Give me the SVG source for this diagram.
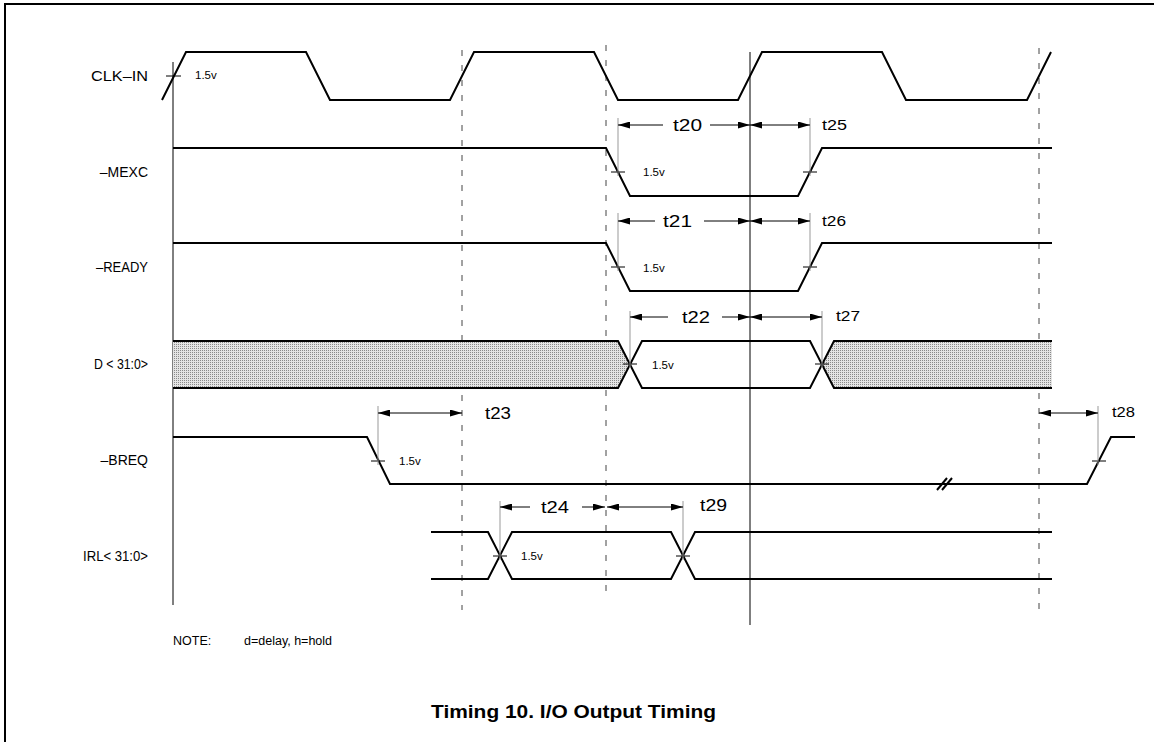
<svg xmlns="http://www.w3.org/2000/svg" width="1154" height="742" viewBox="0 0 1154 742">
<style>
.sig{fill:none;stroke:#000;stroke-width:2;stroke-linejoin:miter}
.tick{stroke:#000;stroke-width:1}
.ref{stroke:#999;stroke-width:1}
.vsolid{stroke:#000;stroke-width:1}
.vdash{stroke:#444;stroke-width:1;stroke-dasharray:6 9}
.arr{stroke:#000;stroke-width:1;fill:none}
.lbl{font-family:"Liberation Sans",Arial,sans-serif;font-size:14px;fill:#000;text-anchor:end}
.tb{font-family:"Liberation Sans",Arial,sans-serif;font-size:17px;fill:#000}
.ts{font-family:"Liberation Sans",Arial,sans-serif;font-size:14px;fill:#000}
.v{font-family:"Liberation Sans",Arial,sans-serif;font-size:11.5px;fill:#000}
.note{font-family:"Liberation Sans",Arial,sans-serif;font-size:12.5px;fill:#000}
.title{font-family:"Liberation Sans",Arial,sans-serif;font-size:18px;font-weight:bold;fill:#000}
</style>
<defs>
<pattern id="dots" width="2" height="2" patternUnits="userSpaceOnUse">
<rect width="2" height="2" fill="#e4e4e4"/>
<rect width="1" height="1" fill="#8a8a8a"/>
</pattern>
<marker id="ah" viewBox="0 0 12 7" refX="12" refY="3.5" markerWidth="12" markerHeight="7" orient="auto-start-reverse" markerUnits="userSpaceOnUse">
<path d="M0,0 L12,3.5 L0,7 z" fill="#000"/>
</marker>
</defs>
<rect width="1154" height="742" fill="#fff"/>
<path d="M5,742 L5,4 L1154,4" fill="none" stroke="#000" stroke-width="2"/>

<g id="gridlines">
<line class="vsolid" x1="173" y1="62" x2="173" y2="605"/>
<line class="vdash" x1="462" y1="50" x2="462" y2="610"/>
<line class="vdash" x1="606" y1="45" x2="606" y2="600"/>
<line class="vsolid" x1="750" y1="52" x2="750" y2="625"/>
<line class="vdash" x1="1039" y1="48" x2="1039" y2="615"/>
</g>

<g id="clk">
<text class="lbl" x="148" y="81" textLength="57" lengthAdjust="spacingAndGlyphs">CLK–IN</text>
<path class="sig" d="M162,100 L186,52 L306,52 L330,100 L450,100 L474,52 L594,52 L618,100 L738,100 L762,52 L882,52 L906,100 L1027,100 L1051,52"/>
<line class="tick" x1="166" y1="76" x2="181" y2="76"/>
<text class="v" x="195" y="79">1.5v</text>
</g>

<g id="mexc">
<text class="lbl" x="148" y="177">–MEXC</text>
<path class="sig" d="M173,148 L606,148 L630,196 L798,196 L822,148 L1052,148"/>
<line class="tick" x1="611" y1="172" x2="625" y2="172"/>
<line class="tick" x1="803" y1="172" x2="817" y2="172"/>
<text class="v" x="643" y="176">1.5v</text>
</g>

<g id="ready">
<text class="lbl" x="148" y="272" textLength="52" lengthAdjust="spacingAndGlyphs">–READY</text>
<path class="sig" d="M173,243 L606,243 L630,291 L798,291 L822,243 L1052,243"/>
<line class="tick" x1="611" y1="267" x2="625" y2="267"/>
<line class="tick" x1="803" y1="267" x2="817" y2="267"/>
<text class="v" x="643" y="272">1.5v</text>
</g>

<g id="data">
<text class="lbl" x="148" y="369" textLength="54" lengthAdjust="spacingAndGlyphs">D &lt; 31:0&gt;</text>
<polygon points="173,341 618,341 630,364 618,388 173,388" fill="url(#dots)"/>
<polygon points="1052,341 834,341 822,364 834,388 1052,388" fill="url(#dots)"/>
<path class="sig" d="M173,341 L618,341 L642,388 L810,388 L834,341 L1052,341"/>
<path class="sig" d="M173,388 L618,388 L642,341 L810,341 L834,388 L1052,388"/>
<line class="tick" x1="623" y1="364" x2="637" y2="364"/>
<line class="tick" x1="815" y1="364" x2="829" y2="364"/>
<text class="v" x="652" y="369">1.5v</text>
</g>

<g id="breq">
<text class="lbl" x="148" y="465">–BREQ</text>
<path class="sig" d="M173,437 L367,437 L390,484 L1087,484 L1111,437 L1135,437"/>
<line class="sig" x1="937" y1="490" x2="947" y2="478"/>
<line class="sig" x1="942" y1="490" x2="952" y2="478"/>
<line class="tick" x1="371" y1="461" x2="385" y2="461"/>
<line class="tick" x1="1092" y1="461" x2="1106" y2="461"/>
<text class="v" x="399" y="465">1.5v</text>
</g>

<g id="irl">
<text class="lbl" x="148" y="561" textLength="65" lengthAdjust="spacingAndGlyphs">IRL&lt; 31:0&gt;</text>
<path class="sig" d="M431,532 L488,532 L512,579 L671,579 L695,532 L1052,532"/>
<path class="sig" d="M431,579 L488,579 L512,532 L671,532 L695,579 L1052,579"/>
<line class="tick" x1="493" y1="556" x2="507" y2="556"/>
<line class="tick" x1="676" y1="556" x2="690" y2="556"/>
<text class="v" x="521" y="560">1.5v</text>
</g>

<g id="connectors">
<line class="ref" x1="618" y1="118" x2="618" y2="176"/>
<line class="ref" x1="810" y1="118" x2="810" y2="176"/>
<line class="arr" x1="663" y1="125" x2="618" y2="125" marker-end="url(#ah)"/>
<line class="arr" x1="710" y1="125" x2="750" y2="125" marker-end="url(#ah)"/>
<line class="arr" x1="750" y1="125" x2="810" y2="125" marker-start="url(#ah)" marker-end="url(#ah)"/>
<text class="tb" x="673" y="131" textLength="29" lengthAdjust="spacingAndGlyphs">t20</text>
<text class="ts" x="822" y="130" textLength="25" lengthAdjust="spacingAndGlyphs">t25</text>

<line class="ref" x1="618" y1="213" x2="618" y2="271"/>
<line class="ref" x1="810" y1="213" x2="810" y2="271"/>
<line class="arr" x1="655" y1="221" x2="618" y2="221" marker-end="url(#ah)"/>
<line class="arr" x1="704" y1="221" x2="750" y2="221" marker-end="url(#ah)"/>
<line class="arr" x1="750" y1="221" x2="810" y2="221" marker-start="url(#ah)" marker-end="url(#ah)"/>
<text class="tb" x="663" y="227" textLength="29" lengthAdjust="spacingAndGlyphs">t21</text>
<text class="ts" x="822" y="226" textLength="24" lengthAdjust="spacingAndGlyphs">t26</text>

<line class="ref" x1="630" y1="311" x2="630" y2="368"/>
<line class="ref" x1="822" y1="311" x2="822" y2="368"/>
<line class="arr" x1="668" y1="317" x2="630" y2="317" marker-end="url(#ah)"/>
<line class="arr" x1="722" y1="317" x2="750" y2="317" marker-end="url(#ah)"/>
<line class="arr" x1="750" y1="317" x2="822" y2="317" marker-start="url(#ah)" marker-end="url(#ah)"/>
<text class="tb" x="682" y="323" textLength="28" lengthAdjust="spacingAndGlyphs">t22</text>
<text class="ts" x="836" y="321" textLength="24" lengthAdjust="spacingAndGlyphs">t27</text>

<line class="ref" x1="378" y1="406" x2="378" y2="465"/>
<line class="arr" x1="378" y1="413" x2="462" y2="413" marker-start="url(#ah)" marker-end="url(#ah)"/>
<text class="tb" x="485" y="419" textLength="26" lengthAdjust="spacingAndGlyphs">t23</text>

<line class="ref" x1="1098" y1="406" x2="1098" y2="465"/>
<line class="arr" x1="1039" y1="413" x2="1098" y2="413" marker-start="url(#ah)" marker-end="url(#ah)"/>
<text class="ts" x="1112" y="417" textLength="23" lengthAdjust="spacingAndGlyphs">t28</text>

<line class="ref" x1="500" y1="501" x2="500" y2="560"/>
<line class="ref" x1="683" y1="501" x2="683" y2="560"/>
<line class="arr" x1="530" y1="507" x2="500" y2="507" marker-end="url(#ah)"/>
<line class="arr" x1="582" y1="507" x2="605" y2="507" marker-end="url(#ah)"/>
<line class="arr" x1="607" y1="507" x2="683" y2="507" marker-start="url(#ah)" marker-end="url(#ah)"/>
<text class="tb" x="541" y="513" textLength="28" lengthAdjust="spacingAndGlyphs">t24</text>
<text class="tb" x="700" y="511" textLength="27" lengthAdjust="spacingAndGlyphs">t29</text>
</g>

<g id="notes">
<text class="note" x="173" y="645">NOTE:</text>
<text class="note" x="244" y="645">d=delay, h=hold</text>
<text class="title" x="431" y="718" textLength="285" lengthAdjust="spacingAndGlyphs">Timing 10. I/O Output Timing</text>
</g>
</svg>
